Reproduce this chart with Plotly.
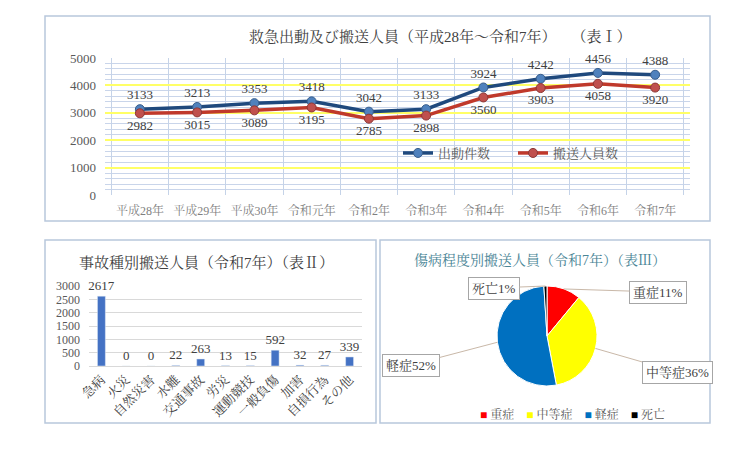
import math
import plotly.graph_objects as go

# 表Ⅰ 救急出動及び搬送人員
years = ["平成28年", "平成29年", "平成30年", "令和元年", "令和2年",
         "令和3年", "令和4年", "令和5年", "令和6年", "令和7年"]
dispatches = [3133, 3213, 3353, 3418, 3042, 3133, 3924, 4242, 4456, 4388]
transported = [2982, 3015, 3089, 3195, 2785, 2898, 3560, 3903, 4058, 3920]

# 表Ⅱ 事故種別搬送人員
accident_types = ["急病", "火災", "自然災害", "水難", "交通事故", "労災",
                  "運動競技", "一般負傷", "加害", "自損行為", "その他"]
accident_counts = [2617, 0, 0, 22, 263, 13, 15, 592, 32, 27, 339]

# 表Ⅲ 傷病程度別搬送人員 (%)
severity = ["重症", "中等症", "軽症", "死亡"]
severity_pct = [11, 36, 52, 1]
severity_colors = ["#ff0000", "#ffff00", "#0070c0", "#000000"]

W, H = 744, 449
FONT = "Liberation Serif, Noto Serif CJK JP, Noto Sans CJK JP"


def px(x):
    return x / W


def py(y):
    return 1 - y / H


fig = go.Figure()

# ---- line chart ----
fig.add_trace(go.Scatter(
    x=years, y=dispatches, name="出動件数", mode="lines+markers+text",
    line=dict(color="#1f497d", width=3.5),
    marker=dict(size=9, color="#4f81bd", line=dict(color="#385d8a", width=1)),
    text=[str(v) for v in dispatches], textposition="top center",
    textfont=dict(size=13, color="#404040", family=FONT),
    xaxis="x", yaxis="y", legend="legend", cliponaxis=False,
))
fig.add_trace(go.Scatter(
    x=years, y=transported, name="搬送人員数", mode="lines+markers+text",
    line=dict(color="#c0392b", width=3.5),
    marker=dict(size=9, color="#c0504d", line=dict(color="#8c3836", width=1)),
    text=[str(v) for v in transported], textposition="bottom center",
    textfont=dict(size=13, color="#404040", family=FONT),
    xaxis="x", yaxis="y", legend="legend", cliponaxis=False,
))

# ---- bar chart ----
fig.add_trace(go.Bar(
    x=accident_types, y=accident_counts, marker_color="#4472c4",
    text=[str(v) for v in accident_counts], textposition="outside",
    constraintext="none",
    textfont=dict(size=13, color="#404040", family=FONT),
    xaxis="x2", yaxis="y2", showlegend=False, cliponaxis=False,
))

# ---- pie chart ----
pie_x = [px(497), px(597)]
pie_y = [py(386), py(286)]
fig.add_trace(go.Pie(
    labels=severity, values=severity_pct, sort=False, direction="clockwise",
    rotation=0, marker=dict(colors=severity_colors, line=dict(color="white", width=1)),
    textinfo="none", hoverinfo="label+percent",
    domain=dict(x=pie_x, y=pie_y), showlegend=False,
))

# pie labels with leader lines
cx, cy, r = 547, 336, 50
label_pos = {"重症": (658, 292), "中等症": (677, 372), "軽症": (411, 365), "死亡": (494, 288)}
total = sum(severity_pct)
cum = 0
annotations = []
for name, v in zip(severity, severity_pct):
    mid = (cum + v / 2) / total
    cum += v
    theta = math.radians(90 - 360 * mid)
    ex, ey = cx + r * math.cos(theta), cy - r * math.sin(theta)
    lx, ly = label_pos[name]
    annotations.append(dict(
        x=px(ex), y=py(ey), xref="paper", yref="paper",
        ax=lx - ex, ay=ly - ey, axref="pixel", ayref="pixel",
        text=f"{name}{v}%", showarrow=True, arrowhead=0, arrowwidth=1,
        arrowcolor="#c9b8a8", bordercolor="#a6a6a6", borderwidth=1,
        borderpad=3, bgcolor="white",
        font=dict(size=13, color="#404040", family=FONT),
    ))

# pie legend
legend_text = "　".join(
    f"<span style='color:{c}'>■</span> {n}" for n, c in zip(severity, severity_colors)
)
annotations.append(dict(
    x=px(572), y=py(414), xref="paper", yref="paper", showarrow=False,
    xanchor="center", yanchor="middle",
    text=legend_text, font=dict(size=12, color="#595959", family=FONT),
))

# titles
annotations += [
    dict(x=px(440), y=py(37), xref="paper", yref="paper", showarrow=False,
         xanchor="center", yanchor="middle",
         text="救急出動及び搬送人員（平成28年～令和7年）　　（表Ⅰ）",
         font=dict(size=15, color="#404040", family=FONT)),
    dict(x=px(207), y=py(262), xref="paper", yref="paper", showarrow=False,
         xanchor="center", yanchor="middle",
         text="事故種別搬送人員（令和7年）（表Ⅱ）",
         font=dict(size=15, color="#404040", family=FONT)),
    dict(x=px(540), y=py(260), xref="paper", yref="paper", showarrow=False,
         xanchor="center", yanchor="middle",
         text="傷病程度別搬送人員（令和7年）（表Ⅲ）",
         font=dict(size=14, color="#4a8596", family=FONT)),
]

border = dict(color="#b8c7dc", width=1.5)
shapes = [
    dict(type="rect", xref="paper", yref="paper", x0=px(45), x1=px(710),
         y0=py(221), y1=py(16), line=border),
    dict(type="rect", xref="paper", yref="paper", x0=px(45), x1=px(376),
         y0=py(423), y1=py(240), line=border),
    dict(type="rect", xref="paper", yref="paper", x0=px(380), x1=px(710),
         y0=py(423), y1=py(240), line=border),
]

fig.update_layout(
    width=W, height=H, margin=dict(l=0, r=0, t=0, b=0, autoexpand=False),
    paper_bgcolor="white", plot_bgcolor="white",
    font=dict(family=FONT, color="#595959"),
    annotations=annotations, shapes=shapes,
    xaxis=dict(domain=[px(105), px(690)], anchor="y", type="category",
               tickson="boundaries", showgrid=True, gridcolor="#c5d3e8",
               ticks="", showline=False, automargin=False, ticklabelstandoff=7,
               tickfont=dict(size=12, color="#7f7f7f")),
    yaxis=dict(domain=[py(195), py(58)], anchor="x", range=[0, 5000], dtick=1000,
               showgrid=True, gridcolor="#ffff66", gridwidth=2, zeroline=False,
               automargin=False, ticklabelstandoff=8,
               tickfont=dict(size=13, color="#595959"),
               minor=dict(dtick=200, showgrid=True, gridcolor="#c9d5ea", gridwidth=1)),
    xaxis2=dict(domain=[px(89), px(362)], anchor="y2", type="category",
                tickangle=-45, ticks="", showline=True, linecolor="#d9d9d9",
                automargin=False, tickfont=dict(size=13, color="#404040")),
    yaxis2=dict(domain=[py(366), py(286)], anchor="x2", range=[0, 3000], dtick=500,
                showgrid=True, gridcolor="#d9d9d9", zeroline=False,
                automargin=False, ticklabelstandoff=8,
                tickfont=dict(size=12, color="#595959")),
    bargap=0.68,
    legend=dict(x=px(398), y=py(153), xanchor="left", yanchor="middle",
                orientation="h", bgcolor="rgba(0,0,0,0)", itemwidth=30,
                entrywidth=70, font=dict(size=13, color="#595959")),
)

fig.write_html("out.html", config={"displayModeBar": False},
               post_script="document.body.style.margin='0';")
